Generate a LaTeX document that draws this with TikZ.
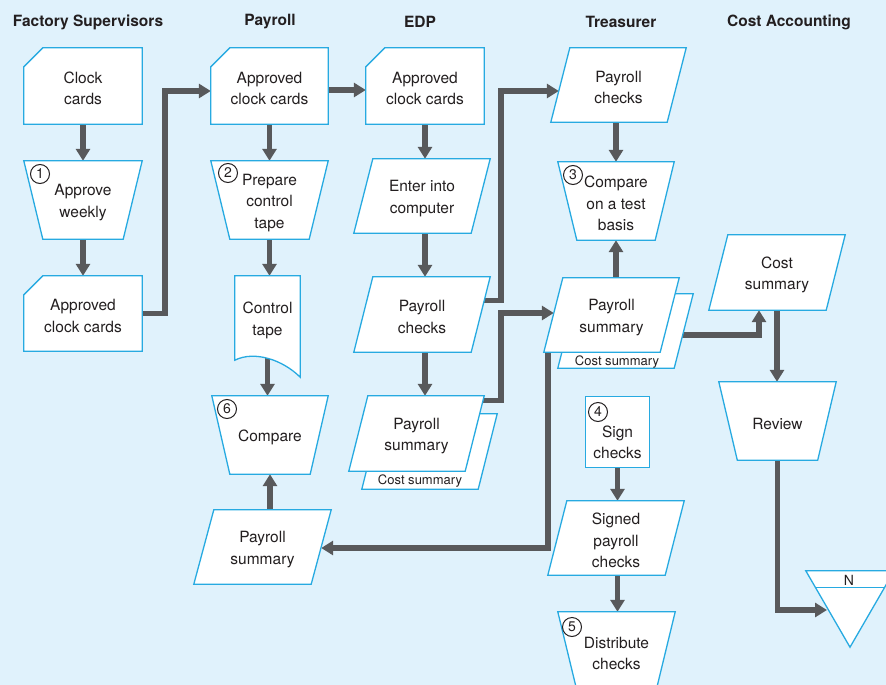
\documentclass[tikz,border=0pt]{standalone}
\usepackage{fontspec}
\setmainfont{TeX Gyre Heros}
\usetikzlibrary{arrows.meta,calc}

\definecolor{paper}{HTML}{E0F2FC}
\definecolor{edge}{HTML}{27AAE1}
\definecolor{flow}{HTML}{58595B}
\definecolor{ink}{HTML}{231F20}

\pgfdeclarelayer{back}
\pgfdeclarelayer{lines}
\pgfdeclarelayer{shapes}
\pgfsetlayers{back,lines,shapes,main}

% tall invisible strut that lowers a label's first line a little
\newcommand\lblstrut{\rule{0pt}{16.5pt}}

\tikzset{
  lbl/.style={align=center, inner sep=0pt, text=ink,
              font=\fontsize{15.5}{21.5}\selectfont},
  head/.style={inner sep=0pt, text=ink, font=\fontsize{15.5}{18}\selectfont\bfseries},
  boxline/.style={draw=edge, fill=white, line width=1.3pt, line join=miter},
  arr/.style={draw=flow, line width=5.5pt, -{Triangle[length=12pt,width=14pt]}},
  num/.style={circle, draw=ink, line width=1pt, minimum size=19pt, inner sep=0pt,
              text=ink, font=\fontsize{14}{14}\selectfont},
  small/.style={inner sep=0pt, text=ink, font=\fontsize{13}{13}\selectfont},
}

% punched card: rectangle with the top-left corner cut off
\newcommand\cardbox[1]{\begin{pgfonlayer}{shapes}
  \draw[boxline] ([yshift=-19pt]#1.north west) -- ([xshift=19pt]#1.north west)
    -- (#1.north east) -- (#1.south east) -- (#1.south west) -- cycle;
\end{pgfonlayer}}
% manual operation: trapezoid narrowing downwards
\newcommand\manop[2]{\begin{pgfonlayer}{shapes}
  \draw[boxline] (#1.north west) -- (#1.north east)
    -- ([xshift=-#2]#1.south east) -- ([xshift=#2]#1.south west) -- cycle;
\end{pgfonlayer}}
% data: parallelogram leaning right
\newcommand\databox[2]{\begin{pgfonlayer}{shapes}
  \draw[boxline] ([xshift=#2]#1.north west) -- (#1.north east)
    -- ([xshift=-#2]#1.south east) -- (#1.south west) -- cycle;
\end{pgfonlayer}}
% process: plain rectangle
\newcommand\procbox[1]{\begin{pgfonlayer}{shapes}
  \draw[boxline] (#1.north west) rectangle (#1.south east);
\end{pgfonlayer}}

\begin{document}
\begin{tikzpicture}[x=1pt,y=-1pt]
\useasboundingbox (0,0) rectangle (886,685);
\begin{pgfonlayer}{back}
  \fill[paper] (0,0) rectangle (886,685);
\end{pgfonlayer}

% column headings
\node[head] (h1) at (88,22) {Factory Supervisors};
\node[head] (h2) at (270,22) {Payroll};
\node[head] (h3) at (420,22) {EDP};
\node[head] (h4) at (621,22) {Treasurer};
\node[head] (h5) at (789,22) {Cost Accounting};

% Factory Supervisors
\node[lbl, minimum width=118pt, minimum height=76pt] (fs1) at (83,86) {\lblstrut Clock\\cards};
\node[lbl, minimum width=118pt, minimum height=78pt] (fs2) at (83,200) {\lblstrut Approve\\weekly};
\node[lbl, minimum width=118pt, minimum height=75pt] (fs3) at (83,313.5) {\lblstrut Approved\\clock cards};
\node[num] (n1) at (40,174) {1};

% Payroll
\node[lbl, minimum width=117pt, minimum height=76pt] (p1) at (269.5,86) {\lblstrut Approved\\clock cards};
\node[lbl, minimum width=117pt, minimum height=78pt] (p2) at (269.5,200) {\lblstrut Prepare\\control\\tape};
\node[lbl, minimum width=65pt, minimum height=84pt] (p3) at (267.5,318) {\lblstrut Control\\tape};
\node[lbl, minimum width=116pt, minimum height=78pt] (p4) at (270,435) {\lblstrut Compare};
\node[lbl, minimum width=137pt, minimum height=74pt] (p5) at (262.5,547) {\lblstrut Payroll\\summary};
\node[num] (n2) at (228,173) {2};
\node[num] (n6) at (227,409) {6};

% EDP
\node[lbl, minimum width=118pt, minimum height=76pt] (e1) at (425,86) {\lblstrut Approved\\clock cards};
\node[lbl, minimum width=136pt, minimum height=74pt] (e2) at (422,196) {\lblstrut Enter into\\computer};
\node[lbl, minimum width=136pt, minimum height=75pt] (e3) at (422,314.5) {\lblstrut Payroll\\checks};
\node[lbl, minimum width=135pt, minimum height=75pt] (e4) at (416.5,433.5) {\lblstrut Payroll\\summary};
\node[small] (e4b) at (420,481) {Cost summary};

% Treasurer
\node[lbl, minimum width=135pt, minimum height=74pt] (t1) at (618.5,85) {\lblstrut Payroll\\checks};
\node[lbl, minimum width=116pt, minimum height=78pt] (t2) at (616,201) {\lblstrut Compare\\on a test\\basis};
\node[lbl, minimum width=135pt, minimum height=74pt] (t3) at (611.5,315) {\lblstrut Payroll\\summary};
\node[small] (t3b) at (617,362) {Cost summary};
\node[minimum width=63pt, minimum height=70pt, inner sep=0pt] (t4) at (617.5,432) {};
\node[lbl] (t4text) at ([yshift=-8pt]t4.center) {\lblstrut Sign\\checks};
\node[lbl, minimum width=136pt, minimum height=74pt] (t5) at (616,538) {\lblstrut Signed\\payroll\\checks};
\node[lbl, minimum width=117pt, minimum height=78pt] (t6) at (616.5,651) {\lblstrut Distribute\\checks};
\node[num] (n3) at (573,175) {3};
\node[num] (n4) at (598,412) {4};
\node[num] (n5) at (572,627) {5};

% Cost Accounting
\node[lbl, minimum width=136pt, minimum height=75pt] (c1) at (777,272.5) {\lblstrut Cost\\summary};
\node[lbl, minimum width=117pt, minimum height=78pt] (c2) at (777.5,421) {\lblstrut Review};
\node[minimum width=88pt, minimum height=76pt, inner sep=0pt] (offp) at (850,609) {};
\node[inner sep=0pt, text=ink, font=\fontsize{14}{14}\selectfont] (offpN) at (849,580) {N};

% outlines
\cardbox{fs1}
\manop{fs2}{19pt}
\cardbox{fs3}
\cardbox{p1}
\manop{p2}{19pt}
\begin{pgfonlayer}{shapes}
  \draw[boxline] (p3.south west) -- (p3.north west) -- (p3.north east)
    -- ([yshift=-17pt]p3.south east)
    .. controls ([xshift=-17pt]p3.south east) and ([xshift=20pt,yshift=10pt]p3.south west)
    .. (p3.south west) -- cycle;
\end{pgfonlayer}
\manop{p4}{18pt}
\databox{p5}{20pt}
\cardbox{e1}
\databox{e2}{19pt}
\databox{e3}{19pt}
\begin{pgfonlayer}{shapes}
  \draw[boxline] ([xshift=32pt,yshift=-18pt]e4.north west) -- ([xshift=13pt,yshift=-18pt]e4.north east)
    -- ([xshift=-6pt,yshift=-18pt]e4.south east) -- ([xshift=13pt,yshift=-18pt]e4.south west) -- cycle;
\end{pgfonlayer}
\databox{e4}{19pt}
\databox{t1}{19pt}
\manop{t2}{19pt}
\begin{pgfonlayer}{shapes}
  \draw[boxline] ([xshift=33pt,yshift=-16pt]t3.north west) -- ([xshift=14pt,yshift=-16pt]t3.north east)
    -- ([xshift=-5pt,yshift=-16pt]t3.south east) -- ([xshift=14pt,yshift=-16pt]t3.south west) -- cycle;
\end{pgfonlayer}
\databox{t3}{19pt}
\procbox{t4}
\databox{t5}{19pt}
\manop{t6}{19pt}
\databox{c1}{19pt}
\manop{c2}{18.5pt}
\begin{pgfonlayer}{shapes}
  \draw[boxline] (offp.north west) -- (offp.north east) -- (offp.south) -- cycle;
  \draw[draw=edge, line width=1.3pt] ([xshift=9.8pt,yshift=-17pt]offp.north west)
    -- ([xshift=-9.8pt,yshift=-17pt]offp.north east);
\end{pgfonlayer}

% flow lines
\coordinate (bus) at (501,0);
\begin{pgfonlayer}{lines}
  \draw[arr] (fs1.south) -- (fs2.north);
  \draw[arr] (fs2.south) -- (fs3.north);
  \draw[arr] (fs3.east) -- ++(23,0) |- ([yshift=-5pt]p1.west);
  \draw[arr] ([yshift=-4pt]p1.east) -- ([yshift=-4pt]p1.east -| e1.west);
  \draw[arr] (p1.south) -- (p2.north);
  \draw[arr] (p2.south) -- (p2.south |- p3.north);
  \draw[arr] (p3.center) -- (p3.center |- p4.north);
  \draw[arr] (p4.south |- p5.north) -- (p4.south);
  \draw[arr] (e1.south) -- (e1.south |- e2.north);
  \draw[arr] (e1.south |- e2.south) -- (e1.south |- e3.north);
  \draw[arr] (e1.south |- e3.south) -- (e1.south |- e4.north);
  \draw[arr] ([yshift=14pt]e3.center) -- ([yshift=14pt]e3.center -| bus)
    |- ([xshift=8pt,yshift=-6pt]t1.west);
  \draw[arr] ([yshift=33pt]e4.center) -- ([yshift=33pt]e4.center -| bus)
    |- ([xshift=10pt,yshift=2pt]t3.west);
  \draw[arr] (t2.north |- t1.south) -- (t2.north);
  \draw[arr] (t2.south |- t3.north) -- (t2.south);
  \draw[arr] ([xshift=4pt,yshift=4pt]t3.south west) |- ([xshift=-10pt,yshift=-1pt]p5.east);
  \draw[arr] ([yshift=-20pt]t3.center) -| ([xshift=-18pt]c1.south);
  \draw[arr] (t4.south) -- (t4.south |- t5.north);
  \draw[arr] (t4.south |- t5.south) -- (t4.south |- t6.north);
  \draw[arr] (c1.south) -- (c1.south |- c2.north);
  \draw[arr] (c2.south) |- ([xshift=-23pt,yshift=-1pt]offp.center);
\end{pgfonlayer}
\end{tikzpicture}
\end{document}
